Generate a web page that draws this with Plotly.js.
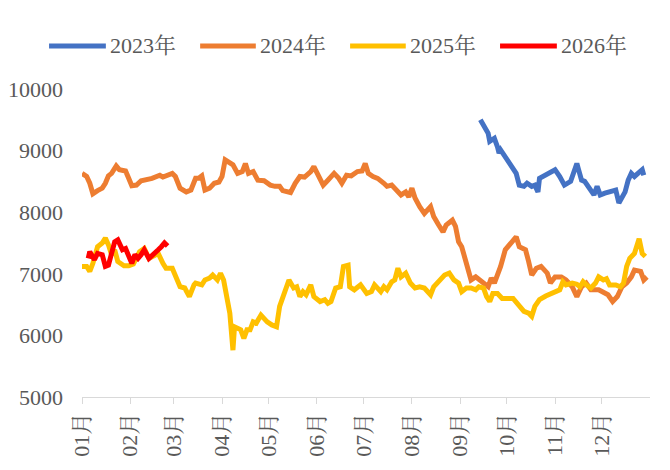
<!DOCTYPE html>
<html>
<head>
<meta charset="utf-8">
<script src="https://cdn.plot.ly/plotly-3.0.1.min.js"></script>
<style>html,body{margin:0;padding:0;background:#fff;}#chart{width:670px;height:470px;}</style>
</head>
<body>
<div id="chart"></div>
<script>
// Series names and colours
const seriesNames = ["2023年", "2024年", "2025年", "2026年"];
const seriesColors = ["#4472C4", "#ED7D31", "#FFC000", "#FF0000"];

// Month tick labels and the day-of-year at which each month starts
const monthLabels = ["01月","02月","03月","04月","05月","06月","07月","08月","09月","10月","11月","12月"];
const monthStartDays = [0,31,59,90,120,151,181,212,243,273,304,334];

// Y-axis ticks
const yTickVals = [5000,6000,7000,8000,9000,10000];
const yTickLabels = ["5000","6000","7000","8000","9000","10000"];

// 2023 (day of year, value)
const days2023 = [256,259,261,262,265,267,268,269,272,276,279,281,284,286,289,291,293,294,298,301,304,307,310,314,316,318,319,321,323,325,329,331,333,336,339,343,345,347,349,351,353,355,357,360,361];
const vals2023 = [9500,9360,9280,9150,9200,9060,8960,9010,8900,8770,8630,8440,8420,8470,8420,8440,8330,8550,8600,8660,8690,8580,8440,8500,8660,8790,8700,8520,8500,8420,8280,8420,8280,8310,8330,8360,8150,8250,8330,8520,8630,8580,8630,8690,8600];

// 2024
const days2024 = [0,3,5,7,10,13,15,17,19,22,24,28,30,32,35,38,45,50,52,58,60,63,67,70,73,75,77,79,82,85,88,90,92,94,97,100,103,105,107,110,113,117,121,124,127,129,134,137,140,143,147,149,152,155,158,162,165,167,170,173,177,180,182,184,187,190,194,196,199,202,205,208,210,212,214,217,220,224,226,229,232,234,238,240,242,244,247,250,253,256,258,261,263,265,269,272,275,279,281,285,287,289,292,295,299,301,304,308,311,315,318,321,324,327,332,335,338,341,344,347,350,353,355,359,361,363];
const vals2024 = [8630,8580,8470,8300,8350,8390,8470,8590,8630,8750,8690,8670,8550,8430,8440,8510,8550,8600,8570,8630,8580,8390,8330,8360,8550,8550,8590,8360,8390,8470,8490,8580,8850,8820,8770,8630,8660,8790,8630,8660,8520,8510,8440,8420,8420,8350,8320,8470,8580,8570,8660,8740,8600,8440,8520,8630,8550,8470,8600,8590,8660,8670,8790,8630,8580,8550,8470,8420,8440,8360,8280,8330,8250,8390,8230,8090,7980,8090,7930,7800,7680,7790,7870,7770,7520,7440,7170,6900,6950,6900,6850,6790,6930,6850,7120,7390,7470,7600,7440,7390,7200,6980,7090,7120,7010,6850,6950,6950,6900,6790,6630,6790,6850,6740,6740,6710,6660,6550,6630,6790,6850,6950,7060,7040,6900,6950];

// 2025
const days2025 = [0,3,5,7,10,13,15,17,19,21,23,27,30,33,37,40,43,46,49,52,54,58,60,63,66,69,72,73,77,79,82,84,87,89,91,93,95,97,98,102,104,106,108,110,112,115,119,122,125,127,130,133,136,138,140,142,144,147,149,151,153,156,158,160,163,166,168,171,172,175,179,183,186,188,192,194,196,199,201,203,205,208,211,214,217,220,224,226,228,230,233,236,239,242,244,247,250,253,255,258,260,262,264,267,270,277,280,284,287,289,291,294,298,301,304,307,309,311,315,318,320,322,324,327,330,332,335,337,339,343,346,348,350,352,355,357,358,360,362];
const vals2025 = [7120,7120,7040,7170,7440,7500,7580,7470,7310,7390,7200,7130,7130,7160,7360,7410,7250,7280,7330,7170,7090,7090,6950,6790,6770,6630,6820,6850,6820,6900,6930,6980,6900,7010,6900,6630,6360,5760,6140,6090,5950,6090,6090,6220,6200,6330,6220,6170,6140,6470,6680,6900,6770,6790,6630,6710,6660,6820,6630,6580,6550,6580,6520,6550,6770,6790,7120,7140,6790,6740,6820,6680,6710,6820,6710,6790,6740,6870,6900,7090,6950,7010,6850,6770,6790,6770,6660,6790,6850,6900,6980,7010,6900,6850,6710,6770,6770,6740,6790,6770,6630,6550,6680,6680,6600,6600,6520,6390,6360,6310,6470,6580,6640,6680,6710,6740,6870,6820,6850,6830,6790,6870,6820,6770,6850,6950,6900,6920,6820,6820,6790,6850,7120,7250,7330,7550,7570,7330,7280];

// 2026
const days2026 = [4,5,6,8,10,13,15,17,19,21,23,26,28,30,32,34,36,38,40,43,46,49,51,53,55];
const vals2026 = [7250,7360,7310,7230,7330,7310,7120,7140,7330,7520,7550,7390,7410,7280,7170,7310,7250,7310,7390,7250,7310,7390,7440,7500,7450];

const allDays = [days2023, days2024, days2025, days2026];
const allVals = [vals2023, vals2024, vals2025, vals2026];

const FONT = "Liberation Serif, 'Times New Roman', 'Noto Serif CJK SC', 'Noto Sans CJK SC', serif";
const TXT = "#595959";

const traces = allDays.map((d, i) => ({
  x: d, y: allVals[i], name: seriesNames[i], type: "scatter", mode: "lines",
  line: {color: seriesColors[i], width: 5}, showlegend: false, hoverinfo: "skip"
}));

// Custom legend (long line swatches like the reference)
const legendLineX = [[-0.058, 0.042], [0.208, 0.306], [0.472, 0.570], [0.736, 0.836]];
const legendY = 1.14;
const shapes = legendLineX.map((lx, i) => ({
  type: "line", xref: "paper", yref: "paper", x0: lx[0], x1: lx[1], y0: legendY, y1: legendY,
  line: {color: seriesColors[i], width: 5}
}));
const annotations = legendLineX.map((lx, i) => ({
  xref: "paper", yref: "paper", x: lx[1] + 0.004, y: legendY, xanchor: "left", yanchor: "middle",
  text: seriesNames[i], showarrow: false, font: {family: FONT, size: 22, color: TXT}
}));

const layout = {
  width: 670, height: 470,
  margin: {l: 82, r: 20, t: 89, b: 73},
  paper_bgcolor: "#ffffff", plot_bgcolor: "#ffffff",
  showlegend: false,
  xaxis: {
    range: [0, 365], tickmode: "array", tickvals: monthStartDays, ticktext: monthLabels,
    tickangle: -90, ticks: "outside", ticklen: 6, tickcolor: "#d9d9d9", tickwidth: 1,
    showline: true, linecolor: "#d9d9d9", linewidth: 1, showgrid: false, zeroline: false,
    tickfont: {family: FONT, size: 22, color: TXT}, fixedrange: true
  },
  yaxis: {
    range: [5000, 10000], tickmode: "array", tickvals: yTickVals, ticktext: yTickLabels,
    showgrid: false, zeroline: false, showline: false, ticks: "",
    ticklabelstandoff: 18,
    tickfont: {family: FONT, size: 22, color: TXT}, fixedrange: true
  },
  shapes: shapes,
  annotations: annotations
};

Plotly.newPlot("chart", traces, layout, {displayModeBar: false, staticPlot: true});
</script>
</body>
</html>
